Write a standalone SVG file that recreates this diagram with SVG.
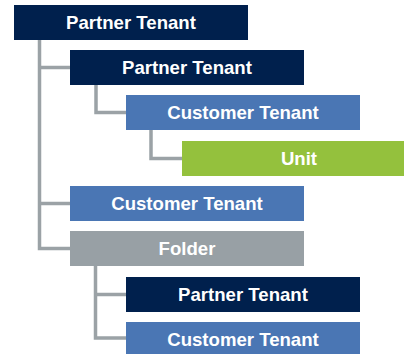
<svg xmlns="http://www.w3.org/2000/svg" width="404" height="354" viewBox="0 0 404 354">
<style>
.navy{fill:#00204d}
.blue{fill:#4a76b4}
.green{fill:#94c13d}
.gray{fill:#98a0a5}
.t{font-family:"Liberation Sans",Arial,sans-serif;font-weight:bold;font-size:18.6px;fill:#fff;text-anchor:middle}
.c{fill:none;stroke:#9ba2a6;stroke-width:3.5}
</style>
<rect width="404" height="354" fill="#fff"/>
<g id="connectors">
<path class="c" d="M39.5 40 V248.5 H70 M39.5 67.5 H70 M39.5 203.5 H70"/>
<path class="c" d="M96 85 V112.5 H126"/>
<path class="c" d="M151 130 V158.5 H182"/>
<path class="c" d="M95.5 266 V338 H126 M95.5 294.5 H126"/>
</g>
<g id="n1"><rect class="navy" x="14" y="5" width="234" height="35"/><text class="t" x="131" y="29.3">Partner Tenant</text></g>
<g id="n2"><rect class="navy" x="70" y="50" width="234" height="35"/><text class="t" x="187" y="74.3">Partner Tenant</text></g>
<g id="n3"><rect class="blue" x="126" y="95" width="234" height="35"/><text class="t" x="243" y="119.3">Customer Tenant</text></g>
<g id="n4"><rect class="green" x="182" y="141" width="234" height="35"/><text class="t" x="299" y="165.3">Unit</text></g>
<g id="n5"><rect class="blue" x="70" y="186" width="234" height="35"/><text class="t" x="187" y="210.3">Customer Tenant</text></g>
<g id="n6"><rect class="gray" x="70" y="231" width="234" height="35"/><text class="t" x="187" y="255.3">Folder</text></g>
<g id="n7"><rect class="navy" x="126" y="277" width="234" height="35"/><text class="t" x="243" y="301.3">Partner Tenant</text></g>
<g id="n8"><rect class="blue" x="126" y="322" width="234" height="35"/><text class="t" x="243" y="346.3">Customer Tenant</text></g>
</svg>
